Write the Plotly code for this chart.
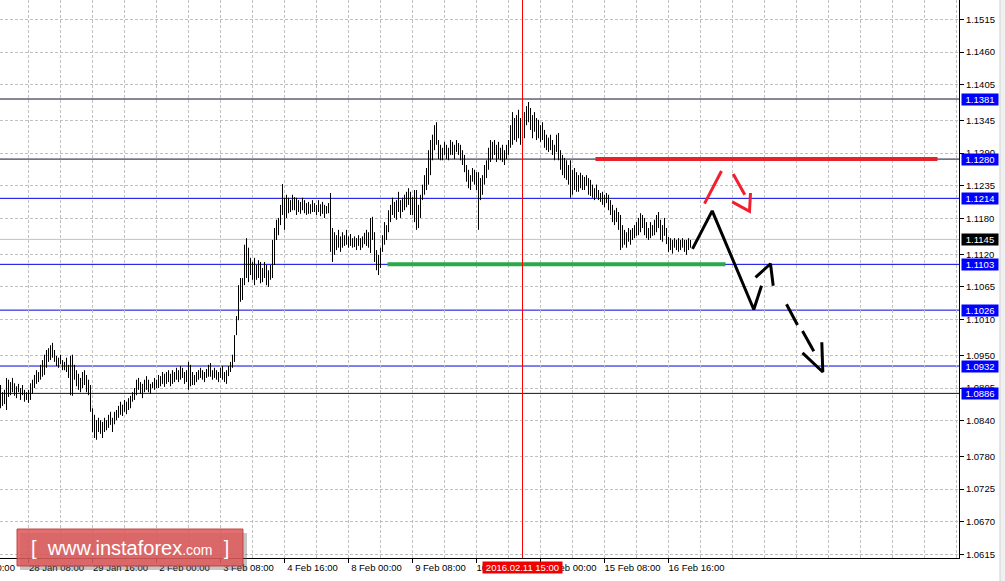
import plotly.graph_objects as go

# ---------------- data (EURUSD H1, bar index 0 = 28 Jan 08:00) ----------------
first_bar = -14
highs = [
    1.0900, 1.0888, 1.0892, 1.0912, 1.0909, 1.0905, 1.0912, 1.0903, 1.0898, 1.0902, 1.0895, 1.0900, 1.0892, 1.0888, 1.0892,
    1.0903, 1.0909, 1.0917, 1.0925, 1.0922, 1.0934, 1.0942, 1.0951, 1.0959, 1.0962, 1.0967, 1.0971, 1.0959, 1.0949, 1.0946,
    1.0951, 1.0942, 1.0939, 1.0946, 1.0934, 1.0949, 1.0951, 1.0934, 1.0925, 1.0919, 1.0912, 1.0922, 1.0925, 1.0917, 1.0909,
    1.0900, 1.0861, 1.0850, 1.0841, 1.0845, 1.0841, 1.0838, 1.0845, 1.0841, 1.0850, 1.0855, 1.0845, 1.0855, 1.0858, 1.0865,
    1.0872, 1.0867, 1.0875, 1.0872, 1.0878, 1.0882, 1.0888, 1.0895, 1.0909, 1.0912, 1.0905, 1.0902, 1.0909, 1.0915, 1.0909,
    1.0902, 1.0905, 1.0912, 1.0909, 1.0917, 1.0915, 1.0922, 1.0919, 1.0922, 1.0925, 1.0919, 1.0925, 1.0922, 1.0929, 1.0925,
    1.0932, 1.0929, 1.0922, 1.0925, 1.0939, 1.0934, 1.0922, 1.0917, 1.0922, 1.0925, 1.0929, 1.0925, 1.0922, 1.0927, 1.0934,
    1.0937, 1.0925, 1.0929, 1.0925, 1.0922, 1.0929, 1.0932, 1.0922, 1.0925, 1.0932, 1.0939, 1.0951, 1.0984, 1.1016, 1.1068,
    1.1080, 1.1080, 1.1136, 1.1147, 1.1131, 1.1114, 1.1107, 1.1114, 1.1102, 1.1110, 1.1107, 1.1097, 1.1107, 1.1102, 1.1093,
    1.1102, 1.1144, 1.1164, 1.1178, 1.1181, 1.1203, 1.1238, 1.1215, 1.1220, 1.1215, 1.1211, 1.1220, 1.1216, 1.1215, 1.1211,
    1.1208, 1.1215, 1.1211, 1.1206, 1.1208, 1.1204, 1.1211, 1.1206, 1.1203, 1.1211, 1.1204, 1.1208, 1.1203, 1.1201, 1.1206,
    1.1223, 1.1164, 1.1157, 1.1152, 1.1161, 1.1150, 1.1157, 1.1152, 1.1161, 1.1150, 1.1154, 1.1147, 1.1150, 1.1147, 1.1152,
    1.1147, 1.1150, 1.1156, 1.1161, 1.1157, 1.1181, 1.1183, 1.1157, 1.1127, 1.1119, 1.1131, 1.1152, 1.1174, 1.1169, 1.1194,
    1.1203, 1.1215, 1.1208, 1.1211, 1.1225, 1.1211, 1.1215, 1.1220, 1.1225, 1.1231, 1.1225, 1.1216, 1.1228, 1.1228, 1.1203,
    1.1220, 1.1237, 1.1253, 1.1265, 1.1295, 1.1312, 1.1321, 1.1337, 1.1342, 1.1312, 1.1304, 1.1299, 1.1309, 1.1304, 1.1299,
    1.1312, 1.1309, 1.1304, 1.1312, 1.1307, 1.1304, 1.1295, 1.1287, 1.1270, 1.1262, 1.1253, 1.1265, 1.1262, 1.1258, 1.1258,
    1.1248, 1.1253, 1.1270, 1.1278, 1.1299, 1.1312, 1.1309, 1.1312, 1.1304, 1.1309, 1.1299, 1.1304, 1.1295, 1.1304, 1.1312,
    1.1337, 1.1359, 1.1349, 1.1354, 1.1363, 1.1349, 1.1366, 1.1359, 1.1369, 1.1376, 1.1366, 1.1354, 1.1359, 1.1349, 1.1346,
    1.1337, 1.1342, 1.1329, 1.1321, 1.1316, 1.1321, 1.1312, 1.1304, 1.1321, 1.1324, 1.1295, 1.1287, 1.1282, 1.1278, 1.1270,
    1.1278, 1.1262, 1.1265, 1.1258, 1.1253, 1.1257, 1.1253, 1.1250, 1.1253, 1.1248, 1.1245, 1.1237, 1.1231, 1.1237, 1.1228,
    1.1223, 1.1225, 1.1220, 1.1223, 1.1220, 1.1211, 1.1203, 1.1194, 1.1198, 1.1191, 1.1186, 1.1169, 1.1161, 1.1157, 1.1164,
    1.1161, 1.1164, 1.1169, 1.1174, 1.1181, 1.1189, 1.1186, 1.1181, 1.1174, 1.1164, 1.1174, 1.1169, 1.1178, 1.1186, 1.1191,
    1.1178, 1.1169, 1.1181, 1.1164, 1.1149, 1.1147, 1.1144, 1.1147, 1.1144, 1.1147, 1.1144, 1.1147, 1.1144, 1.1144, 1.1147,
    1.1144,
]
lows = [
    1.0861, 1.0865, 1.0868, 1.0858, 1.0880, 1.0883, 1.0888, 1.0882, 1.0878, 1.0888, 1.0875, 1.0883, 1.0872, 1.0875, 1.0870,
    1.0875, 1.0885, 1.0895, 1.0902, 1.0905, 1.0909, 1.0914, 1.0917, 1.0929, 1.0939, 1.0942, 1.0946, 1.0939, 1.0932, 1.0929,
    1.0935, 1.0925, 1.0925, 1.0922, 1.0912, 1.0883, 1.0882, 1.0909, 1.0898, 1.0892, 1.0888, 1.0895, 1.0900, 1.0888, 1.0883,
    1.0855, 1.0821, 1.0811, 1.0808, 1.0821, 1.0818, 1.0811, 1.0821, 1.0824, 1.0828, 1.0833, 1.0821, 1.0834, 1.0841, 1.0845,
    1.0850, 1.0848, 1.0855, 1.0851, 1.0858, 1.0861, 1.0872, 1.0875, 1.0883, 1.0892, 1.0885, 1.0878, 1.0888, 1.0892, 1.0888,
    1.0885, 1.0895, 1.0892, 1.0895, 1.0895, 1.0898, 1.0902, 1.0897, 1.0902, 1.0905, 1.0898, 1.0902, 1.0905, 1.0909, 1.0905,
    1.0909, 1.0912, 1.0902, 1.0905, 1.0892, 1.0898, 1.0900, 1.0900, 1.0905, 1.0909, 1.0912, 1.0909, 1.0905, 1.0912, 1.0914,
    1.0914, 1.0909, 1.0912, 1.0909, 1.0905, 1.0912, 1.0909, 1.0905, 1.0902, 1.0915, 1.0922, 1.0929, 1.0939, 1.0984, 1.1009,
    1.1040, 1.1043, 1.1068, 1.1080, 1.1073, 1.1085, 1.1077, 1.1068, 1.1077, 1.1080, 1.1071, 1.1073, 1.1080, 1.1068, 1.1065,
    1.1077, 1.1080, 1.1102, 1.1144, 1.1152, 1.1169, 1.1186, 1.1161, 1.1181, 1.1189, 1.1191, 1.1194, 1.1194, 1.1186, 1.1191,
    1.1188, 1.1194, 1.1189, 1.1186, 1.1188, 1.1188, 1.1191, 1.1191, 1.1186, 1.1191, 1.1184, 1.1188, 1.1181, 1.1188, 1.1189,
    1.1124, 1.1107, 1.1119, 1.1127, 1.1131, 1.1124, 1.1131, 1.1134, 1.1136, 1.1131, 1.1134, 1.1131, 1.1132, 1.1127, 1.1134,
    1.1127, 1.1131, 1.1137, 1.1134, 1.1131, 1.1122, 1.1144, 1.1107, 1.1093, 1.1085, 1.1097, 1.1124, 1.1136, 1.1144, 1.1157,
    1.1174, 1.1186, 1.1181, 1.1178, 1.1191, 1.1181, 1.1191, 1.1194, 1.1199, 1.1203, 1.1186, 1.1186, 1.1174, 1.1161, 1.1164,
    1.1181, 1.1211, 1.1220, 1.1228, 1.1237, 1.1253, 1.1278, 1.1295, 1.1304, 1.1280, 1.1278, 1.1278, 1.1287, 1.1280, 1.1278,
    1.1287, 1.1287, 1.1280, 1.1292, 1.1287, 1.1278, 1.1270, 1.1258, 1.1242, 1.1231, 1.1228, 1.1242, 1.1237, 1.1228, 1.1161,
    1.1211, 1.1220, 1.1237, 1.1248, 1.1262, 1.1275, 1.1280, 1.1287, 1.1275, 1.1280, 1.1278, 1.1275, 1.1270, 1.1280, 1.1287,
    1.1299, 1.1304, 1.1312, 1.1309, 1.1315, 1.1304, 1.1329, 1.1315, 1.1337, 1.1342, 1.1329, 1.1315, 1.1326, 1.1312, 1.1315,
    1.1309, 1.1312, 1.1299, 1.1295, 1.1292, 1.1295, 1.1287, 1.1278, 1.1292, 1.1278, 1.1262, 1.1253, 1.1248, 1.1245, 1.1237,
    1.1215, 1.1220, 1.1228, 1.1225, 1.1225, 1.1231, 1.1228, 1.1228, 1.1235, 1.1220, 1.1218, 1.1215, 1.1211, 1.1215, 1.1211,
    1.1208, 1.1203, 1.1199, 1.1206, 1.1194, 1.1186, 1.1174, 1.1169, 1.1174, 1.1161, 1.1127, 1.1131, 1.1136, 1.1131, 1.1141,
    1.1136, 1.1144, 1.1147, 1.1151, 1.1152, 1.1157, 1.1164, 1.1152, 1.1147, 1.1144, 1.1147, 1.1151, 1.1152, 1.1157, 1.1164,
    1.1144, 1.1141, 1.1151, 1.1137, 1.1124, 1.1127, 1.1121, 1.1131, 1.1127, 1.1124, 1.1127, 1.1131, 1.1124, 1.1119, 1.1127,
    1.1131,
]

# time axis labels (bar index -> label)
time_tick_idx = [0, 32, 64, 96, 128, 160, 192, 224, 256, 288, 320]
time_tick_text = ["28 Jan 08:00", "29 Jan 16:00", "2 Feb 00:00", "3 Feb 08:00", "4 Feb 16:00",
                  "8 Feb 00:00", "9 Feb 08:00", "10 Feb 16:00", "12 Feb 00:00", "15 Feb 08:00",
                  "16 Feb 16:00"]
cut_label = "27 Jan 00:00"

price_ticks = [1.1515, 1.1460, 1.1405, 1.1345, 1.1290, 1.1235, 1.1180, 1.1120, 1.1065,
               1.1010, 1.0950, 1.0895, 1.0840, 1.0780, 1.0725, 1.0670, 1.0615]

# horizontal levels
levels = [1.1381, 1.1280, 1.1214, 1.1103, 1.1026, 1.0932, 1.0886]
level_colors = ["#101030", "#101030", "#0000e0", "#0000e0", "#0000e0", "#0000e0", "#101030"]
current_price = 1.1145

# marked moment
cursor_idx = 247
cursor_label = "2016.02.11 15:00"

# analyst drawings (bar index, price)
red_level = dict(x=[283.5, 454.5], y=[1.1280, 1.1280])
green_level = dict(x=[179.5, 348.5], y=[1.1103, 1.1103])
black_path = dict(x=[332, 341.85, 362.65, 366.5], y=[1.1129, 1.1193, 1.1027, 1.1067])
black_head = dict(x=[363.5, 371, 372.35], y=[1.1081, 1.1104, 1.1067])
dash_seg1 = dict(x=[379, 384.5], y=[1.1036, 1.1001])
dash_seg2 = dict(x=[387, 392.65], y=[1.0991, 1.0957])
dash_head = dict(x=[387, 397.15, 396.65], y=[1.0954, 1.0922, 1.0972])
red_seg1 = dict(x=[338, 346.5], y=[1.1205, 1.1260])
red_seg2 = dict(x=[352.35, 358.15], y=[1.1255, 1.1220])
red_head = dict(x=[351.85, 360.5, 361], y=[1.1208, 1.1192, 1.1223])

# ---------------- figure ----------------
W, H = 1005, 581
ML, MR, MT, MB = 0, 46, 0, 23
x_range = [-14.25, 465.25]
y_range = [1.06092, 1.15475]
FONT = "Liberation Sans"

fig = go.Figure()

# bars as high-low vertical strokes
bx, by = [], []
for i, (h, l) in enumerate(zip(highs, lows)):
    k = first_bar + i
    bx += [k, k, None]
    by += [h, l, None]
fig.add_trace(go.Scatter(x=bx, y=by, mode="lines", line=dict(color="black", width=1),
                         hoverinfo="skip", connectgaps=False))

shapes = []
for lv, c in zip(levels, level_colors):
    shapes.append(dict(type="line", xref="paper", x0=0, x1=1, yref="y", y0=lv, y1=lv,
                       line=dict(color=c, width=1), layer="below"))
shapes.append(dict(type="line", xref="paper", x0=0, x1=1, yref="y", y0=current_price, y1=current_price,
                   line=dict(color="#c0c0c0", width=1), layer="below"))
shapes.append(dict(type="line", xref="x", x0=cursor_idx, x1=cursor_idx, yref="paper", y0=0, y1=1,
                   line=dict(color="#ff0000", width=1), layer="above"))


def seg(d, color, width=3):
    fig.add_trace(go.Scatter(x=d["x"], y=d["y"], mode="lines",
                             line=dict(color=color, width=width),
                             hoverinfo="skip"))


seg(red_level, "#e8202a", width=4)
seg(green_level, "#2aa84a", width=4)
seg(black_path, "black")
seg(black_head, "black")
seg(dash_seg1, "black")
seg(dash_seg2, "black")
seg(dash_head, "black")
seg(red_seg1, "#f02030")
seg(red_seg2, "#f02030")
seg(red_head, "#f02030")

grid = dict(gridcolor="#c0c0c0", griddash="3px,2px", gridwidth=1)
fig.update_xaxes(range=x_range, showline=True, linecolor="black", linewidth=1,
                 ticks="outside", ticklen=4, tickcolor="black",
                 tickvals=time_tick_idx, ticktext=time_tick_text,
                 tickfont=dict(family=FONT, size=9.5, color="black"),
                 ticklabelshift=28, ticklabelstandoff=-3,
                 showgrid=True, **grid, zeroline=False,
                 minor=dict(tick0=0, dtick=16, showgrid=True, ticks="", **grid))
fig.update_yaxes(range=y_range, side="right", showline=True, linecolor="black", linewidth=1,
                 ticks="outside", ticklen=4, tickcolor="black",
                 tickvals=price_ticks, ticktext=[f"{v:.4f}" for v in price_ticks],
                 tickfont=dict(family=FONT, size=9.5, color="black"),
                 showgrid=True, **grid, zeroline=False)

annotations = []
for lv in levels:
    annotations.append(dict(xref="paper", x=1, xanchor="left", xshift=2, yref="y", y=lv,
                            text=f"{lv:.4f}", showarrow=False, bgcolor="#0000ff",
                            font=dict(family=FONT, size=9.5, color="white"),
                            width=36, height=11, borderpad=0))
annotations.append(dict(xref="paper", x=1, xanchor="left", xshift=2, yref="y", y=current_price,
                        text=f"{current_price:.4f}", showarrow=False, bgcolor="#000000",
                        font=dict(family=FONT, size=9.5, color="white"),
                        width=36, height=11, borderpad=0))
annotations.append(dict(xref="paper", x=0, xanchor="right", xshift=17, yref="paper", y=0,
                        yanchor="top", yshift=-2, text=cut_label, showarrow=False,
                        font=dict(family=FONT, size=9.5, color="black")))
annotations.append(dict(xref="x", x=cursor_idx, xanchor="center", yref="paper", y=0,
                        yanchor="top", yshift=-3, text=cursor_label, showarrow=False,
                        bgcolor="#f00000", width=79, height=11, borderpad=0,
                        font=dict(family=FONT, size=9.5, color="white")))


def px(xp):
    return (xp - ML) / (W - ML - MR)


def py(yp):
    return (H - MB - yp) / (H - MT - MB)


shapes += [
    dict(type="rect", xref="paper", yref="paper", x0=px(20), x1=px(247), y0=py(570), y1=py(533),
         fillcolor="rgba(90,90,90,0.35)", line=dict(width=0), layer="above"),
    dict(type="rect", xref="paper", yref="paper", x0=px(17), x1=px(243), y0=py(566), y1=py(529),
         fillcolor="rgba(222,88,90,0.86)", line=dict(color="rgba(190,60,60,0.9)", width=1), layer="above"),
    dict(type="rect", xref="paper", yref="paper", x0=px(1000), x1=px(1006), y0=py(582), y1=py(-1),
         fillcolor="#f0f0f0", line=dict(color="#d0d0d0", width=1), layer="above"),
]
annotations.append(dict(xref="paper", yref="paper", x=px(130), y=py(548), xanchor="center",
                        yanchor="middle", showarrow=False,
                        text="[  www.instaforex<span style='font-size:14px'>.com</span>  ]",
                        font=dict(family=FONT, size=20, color="white")))

fig.update_layout(width=W, height=H, margin=dict(l=ML, r=MR, t=MT, b=MB),
                  plot_bgcolor="white", paper_bgcolor="white", showlegend=False,
                  shapes=shapes, annotations=annotations)

fig.write_html("out.html", config={"displayModeBar": False},
               post_script="document.body.style.margin='0';")
